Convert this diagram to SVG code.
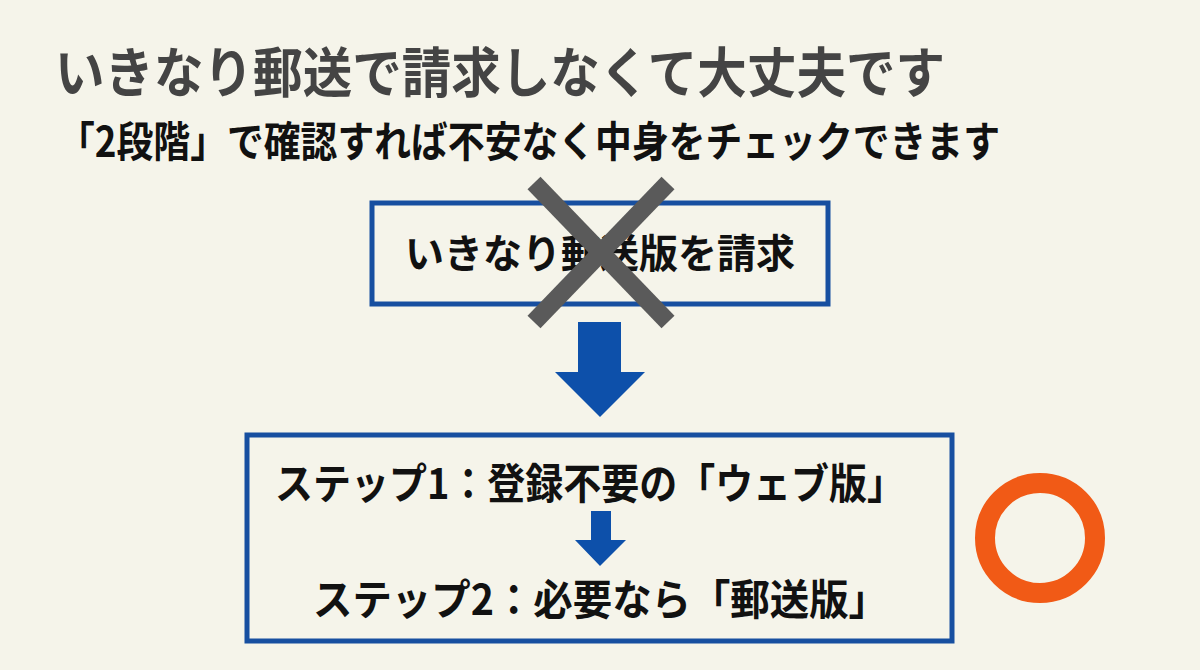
<svg xmlns="http://www.w3.org/2000/svg" width="1200" height="670" viewBox="0 0 1200 670">
<style>
.t{font-family:"Noto Sans CJK JP","Noto Sans",sans-serif;font-weight:700;}
.box{fill:none;stroke:#174fa0;stroke-width:5;}
.arr{fill:#0d50aa;}
</style>
<rect width="1200" height="670" fill="#f5f4ea"/>
<g id="title">
<text class="t" x="55" y="93" font-size="54" fill="#444444" textLength="890" lengthAdjust="spacingAndGlyphs">いきなり郵送で請求しなくて大丈夫です</text>
</g>
<g id="subtitle">
<text class="t" x="58" y="157" font-size="42" fill="#111111" textLength="942" lengthAdjust="spacingAndGlyphs">「2段階」で確認すれば不安なく中身をチェックできます</text>
</g>
<g id="node-old">
<rect class="box" x="372" y="203" width="456" height="101"/>
<text class="t" x="405" y="268" font-size="40" fill="#111111" textLength="390" lengthAdjust="spacingAndGlyphs">いきなり郵送版を請求</text>
</g>
<g id="cross">
<line x1="534" y1="183" x2="668" y2="322" stroke="#5a5a5a" stroke-width="18"/>
<line x1="668" y1="183" x2="534" y2="322" stroke="#5a5a5a" stroke-width="18"/>
</g>
<g id="connectors">
<polygon class="arr" points="578,322 621,322 621,372 645,372 600,417 555,372 578,372"/>
<polygon class="arr" points="591,511 611,511 611,540 626,540 600,566 575,540 591,540"/>
</g>
<g id="node-new">
<rect class="box" x="247" y="435" width="705" height="206"/>
<text class="t" x="275" y="499" font-size="42" fill="#111111" textLength="630" lengthAdjust="spacingAndGlyphs">ステップ1：登録不要の「ウェブ版」</text>
<text class="t" x="313" y="615" font-size="42" fill="#111111" textLength="575" lengthAdjust="spacingAndGlyphs">ステップ2：必要なら「郵送版」</text>
</g>
<g id="ok-mark">
<circle cx="1040" cy="538" r="55" fill="none" stroke="#f15a16" stroke-width="20"/>
</g>
</svg>
